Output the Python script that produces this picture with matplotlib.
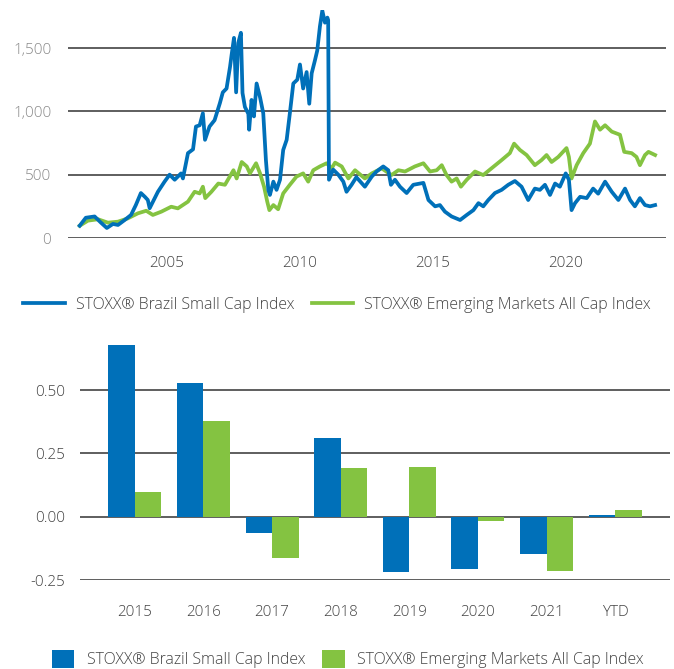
import matplotlib
matplotlib.use("Agg")
import matplotlib.pyplot as plt
import numpy as np

plt.rcParams['font.family'] = ['Open Sans', 'DejaVu Sans']
plt.rcParams['font.weight'] = 'light'

# index levels (decimal year, level)
brazil_years = [2001.72, 2001.95, 2002.28, 2002.52, 2002.74, 2002.97, 2003.16, 2003.41, 2003.65, 2003.83,
                2004.02, 2004.17, 2004.28, 2004.35, 2004.66, 2004.91, 2005.1, 2005.29, 2005.53, 2005.6,
                2005.79, 2005.98, 2006.09, 2006.23, 2006.35, 2006.43, 2006.6, 2006.79, 2006.87, 2006.99,
                2007.1, 2007.24, 2007.37, 2007.43, 2007.52, 2007.6, 2007.68, 2007.78, 2007.84, 2007.93,
                2008.06, 2008.09, 2008.18, 2008.27, 2008.37, 2008.5, 2008.62, 2008.72, 2008.81, 2008.87,
                2009.0, 2009.12, 2009.25, 2009.37, 2009.5, 2009.62, 2009.75, 2009.9, 2010.0, 2010.12,
                2010.25, 2010.35, 2010.44, 2010.56, 2010.65, 2010.75, 2010.84, 2010.94, 2011.03, 2011.06,
                2011.09, 2011.25, 2011.44, 2011.63, 2011.75, 2011.94, 2012.12, 2012.44, 2012.7, 2012.88,
                2013.13, 2013.32, 2013.42, 2013.57, 2013.76, 2014.01, 2014.26, 2014.64, 2014.83, 2015.08,
                2015.26, 2015.45, 2015.7, 2016.02, 2016.27, 2016.52, 2016.71, 2016.89, 2017.08, 2017.33,
                2017.58, 2017.83, 2018.08, 2018.33, 2018.58, 2018.83, 2019.02, 2019.21, 2019.4, 2019.59,
                2019.77, 2019.99, 2020.11, 2020.21, 2020.34, 2020.53, 2020.78, 2021.02, 2021.21, 2021.47,
                2021.72, 2021.97, 2022.22, 2022.41, 2022.59, 2022.78, 2022.97, 2023.16, 2023.35]
brazil_level = [97, 160, 170, 121, 79, 111, 103, 142, 182, 260,
                355, 325, 300, 235, 365, 445, 500, 460, 510, 470,
                670, 700, 880, 890, 985, 775, 880, 930, 985, 1065,
                1150, 1180, 1350, 1445, 1580, 1150, 1540, 1620, 1145, 1035,
                980, 855, 1090, 960, 1220, 1110, 985, 615, 380, 340,
                445, 380, 460, 695, 775, 985, 1220, 1250, 1370, 1180,
                1310, 1060, 1300, 1400, 1480, 1670, 1795, 1700, 1740, 1720,
                460, 540, 500, 445, 365, 420, 480, 405, 485, 525,
                565, 535, 420, 460, 405, 355, 420, 435, 300, 250,
                260, 208, 170, 142, 182, 220, 275, 250, 300, 355,
                380, 420, 450, 405, 300, 390, 380, 420, 340, 430,
                405, 510, 460, 220, 275, 325, 315, 390, 350, 445,
                365, 300, 390, 300, 250, 315, 260, 250, 260]

em_years = [2001.72, 2002.03, 2002.41, 2002.78, 2003.16, 2003.53, 2003.91, 2004.22, 2004.47, 2004.79,
            2005.16, 2005.41, 2005.79, 2006.04, 2006.23, 2006.35, 2006.44, 2006.67, 2006.93, 2007.18,
            2007.5, 2007.62, 2007.81, 2008.0, 2008.12, 2008.35, 2008.5, 2008.65, 2008.77, 2008.85,
            2009.0, 2009.18, 2009.37, 2009.62, 2009.87, 2010.12, 2010.31, 2010.5, 2010.75, 2011.0,
            2011.19, 2011.32, 2011.57, 2011.82, 2012.07, 2012.44, 2012.7, 2013.07, 2013.44, 2013.7,
            2013.95, 2014.32, 2014.64, 2014.89, 2015.14, 2015.33, 2015.51, 2015.7, 2015.89, 2016.05,
            2016.27, 2016.58, 2016.89, 2017.2, 2017.58, 2017.89, 2018.05, 2018.27, 2018.52, 2018.83,
            2019.08, 2019.27, 2019.46, 2019.71, 2020.02, 2020.11, 2020.21, 2020.4, 2020.65, 2020.9,
            2021.09, 2021.28, 2021.47, 2021.72, 2022.03, 2022.19, 2022.47, 2022.65, 2022.78, 2022.97,
            2023.1, 2023.35]
em_level = [97, 137, 148, 121, 129, 155, 195, 215, 182, 208,
            247, 234, 287, 365, 352, 405, 315, 365, 430, 420,
            535, 470, 600, 565, 510, 590, 510, 405, 287, 220,
            260, 227, 352, 420, 485, 510, 445, 535, 565, 590,
            550, 595, 565, 470, 535, 470, 510, 550, 497, 535,
            525, 565, 590, 525, 535, 575, 497, 445, 470, 405,
            460, 525, 497, 550, 615, 670, 745, 695, 655, 575,
            615, 655, 600, 640, 710, 640, 470, 575, 670, 745,
            920, 855, 890, 840, 815, 680, 670, 640, 575, 655,
            680, 655]

# annual returns
periods = ['2015', '2016', '2017', '2018', '2019', '2020', '2021', 'YTD']
brazil_ret = [0.678, 0.527, -0.063, 0.309, -0.217, -0.208, -0.147, 0.007]
em_ret = [0.096, 0.378, -0.162, 0.191, 0.196, -0.016, -0.213, 0.026]

blue = '#0070b9'
green = '#84c341'
name_br = 'STOXX® Brazil Small Cap Index'
name_em = 'STOXX® Emerging Markets All Cap Index'

fig = plt.figure(figsize=(6.74, 6.69), dpi=100)

# ---- line chart ----
ax1 = fig.add_axes([68 / 674, 1 - 238 / 669, (666 - 68) / 674, (238 - 10) / 669])
ax1.plot(em_years, em_level, color=green, lw=2.7, label=name_em, solid_joinstyle='round')
ax1.plot(brazil_years, brazil_level, color=blue, lw=2.7, label=name_br, solid_joinstyle='round')
ax1.set_xlim(2001.28, 2023.76)
ax1.set_ylim(0, 1800)
ax1.set_yticks([0, 500, 1000, 1500])
ax1.set_yticklabels(['0', '500', '1,000', '1,500'])
ax1.set_xticks([2005, 2010, 2015, 2020])
ax1.yaxis.grid(True, color='#333333', lw=1.1)
ax1.set_axisbelow(True)
for s in ax1.spines.values():
    s.set_visible(False)
ax1.tick_params(axis='both', length=0, labelsize=11)
ax1.tick_params(axis='y', colors='#8a8a8a', pad=12)
ax1.tick_params(axis='x', colors='#444444', pad=13)

h, l = ax1.get_legend_handles_labels()
fig.legend(h[::-1], l[::-1], loc='center', bbox_to_anchor=(0.5, 1 - 305 / 669), ncol=2,
           frameon=False, fontsize=11.4, handlelength=2.6, handletextpad=0.7,
           columnspacing=1.1, labelcolor='#444444')

# ---- bar chart ----
ax2 = fig.add_axes([80 / 674, 1 - 580 / 669, (670 - 80) / 674, (580 - 339.4) / 669])
x = np.arange(len(periods))
w = 0.385
ax2.bar(x - w / 2, brazil_ret, w, color=blue, label=name_br)
ax2.bar(x + w / 2, em_ret, w, color=green, label=name_em)
ax2.set_xlim(-0.8, 7.8)
ax2.set_ylim(-0.25, 0.70)
ax2.set_yticks([-0.25, 0, 0.25, 0.5])
ax2.set_yticklabels(['-0.25', '0.00', '0.25', '0.50'])
ax2.set_xticks(x)
ax2.set_xticklabels(periods)
ax2.yaxis.grid(True, color='#333333', lw=1.1)
ax2.set_axisbelow(True)
for s in ax2.spines.values():
    s.set_visible(False)
ax2.tick_params(axis='both', length=0, labelsize=11, colors='#444444')
ax2.tick_params(axis='y', pad=11)
ax2.tick_params(axis='x', pad=18)

fig.legend(*ax2.get_legend_handles_labels(), loc='center', bbox_to_anchor=(0.516, 1 - 659 / 669),
           ncol=2, frameon=False, fontsize=11.4, handlelength=1.4, handleheight=1.4,
           handletextpad=0.8, columnspacing=1.1, labelcolor='#444444')

fig.savefig('out.png', dpi=100)
